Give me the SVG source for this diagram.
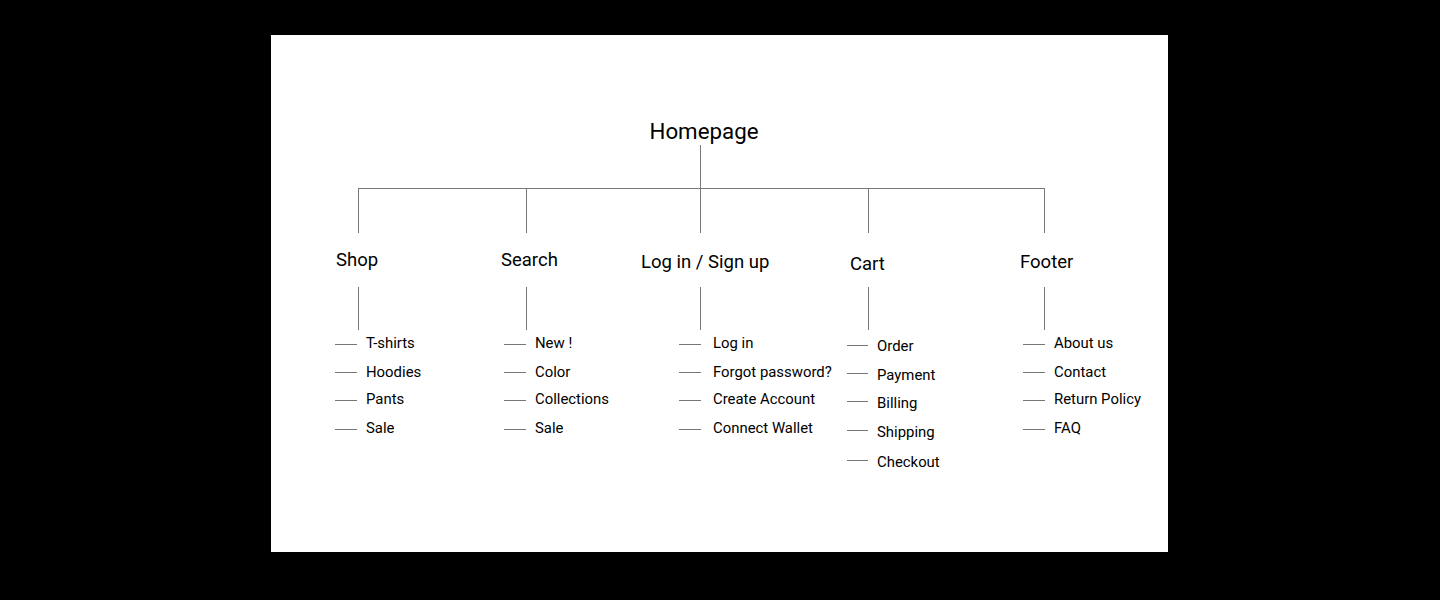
<svg xmlns="http://www.w3.org/2000/svg" width="1440" height="600" viewBox="0 0 1440 600">
<style>
.ln{stroke:#777;stroke-width:1;fill:none}
.t1{font-family:Roboto,"Liberation Sans",sans-serif;font-size:22.3px;fill:#000}
.t2{font-family:Roboto,"Liberation Sans",sans-serif;font-size:18.5px;fill:#000}
.t3{font-family:Roboto,"Liberation Sans",sans-serif;font-size:14.9px;fill:#000}
</style>
<rect x="0" y="0" width="1440" height="600" fill="#000"/>
<rect x="271" y="35" width="897" height="517" fill="#fff"/>
<g id="connectors">
<path class="ln" d="M700.5 145V233M358.5 188.5H1044.5M358.5 188V233M526.5 188V233M868.5 188V233M1044.5 188V233"/>
<path class="ln" d="M358.5 287V330M526.5 287V330M700.5 287V330M868.5 287V330M1044.5 287V330"/>
<path class="ln" d="M335 344.5H357M335 372.5H357M335 400.5H357M335 429.5H357"/>
<path class="ln" d="M504 344.5H526M504 372.5H526M504 400.5H526M504 429.5H526"/>
<path class="ln" d="M679 344.5H701M679 372.5H701M679 400.5H701M679 429.5H701"/>
<path class="ln" d="M847 345.5H868M847 373.5H868M847 401.5H868M847 430.5H868M847 460.5H868"/>
<path class="ln" d="M1023 344.5H1045M1023 372.5H1045M1023 400.5H1045M1023 429.5H1045"/>
</g>
<g id="homepage"><text class="t1" x="704" y="139" text-anchor="middle">Homepage</text></g>
<g id="shop">
<text class="t2" x="336" y="266">Shop</text>
<text class="t3" x="366" y="348">T-shirts</text>
<text class="t3" x="366" y="377">Hoodies</text>
<text class="t3" x="366" y="404">Pants</text>
<text class="t3" x="366" y="433">Sale</text>
</g>
<g id="search">
<text class="t2" x="501" y="266">Search</text>
<text class="t3" x="535" y="348">New !</text>
<text class="t3" x="535" y="377">Color</text>
<text class="t3" x="535" y="404">Collections</text>
<text class="t3" x="535" y="433">Sale</text>
</g>
<g id="login">
<text class="t2" x="641" y="268">Log in / Sign up</text>
<text class="t3" x="713" y="348">Log in</text>
<text class="t3" x="713" y="377">Forgot password?</text>
<text class="t3" x="713" y="404">Create Account</text>
<text class="t3" x="713" y="433">Connect Wallet</text>
</g>
<g id="cart">
<text class="t2" x="850" y="270">Cart</text>
<text class="t3" x="877" y="351">Order</text>
<text class="t3" x="877" y="380">Payment</text>
<text class="t3" x="877" y="408">Billing</text>
<text class="t3" x="877" y="437">Shipping</text>
<text class="t3" x="877" y="467">Checkout</text>
</g>
<g id="footer">
<text class="t2" x="1020" y="268">Footer</text>
<text class="t3" x="1054" y="348">About us</text>
<text class="t3" x="1054" y="377">Contact</text>
<text class="t3" x="1054" y="404">Return Policy</text>
<text class="t3" x="1054" y="433">FAQ</text>
</g>
</svg>
